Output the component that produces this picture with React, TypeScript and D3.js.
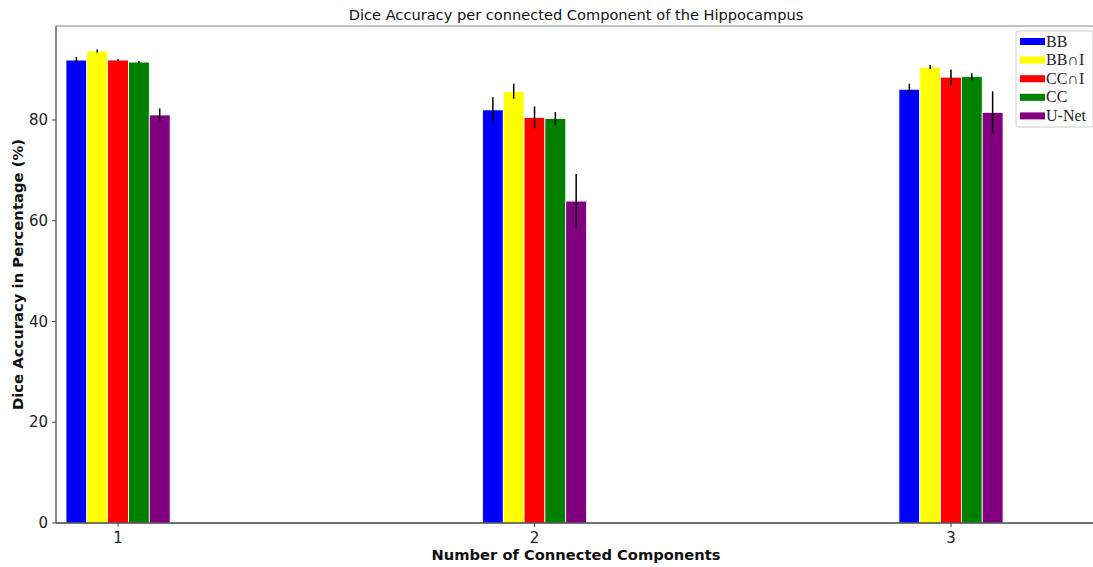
import React from 'react';
import * as d3 from 'd3';

// components on the x axis
const groups = [1, 2, 3];
const methods = ['BB', 'BB\u2229I', 'CC\u2229I', 'CC', 'U-Net'];
const colors = ['#0000ff', '#ffff00', '#ff0000', '#008000', '#800080'];

// mean dice per method, one value per group
const bbMean = [91.9, 82.0, 86.1];
const bbiMean = [93.7, 85.7, 90.5];
const cciMean = [91.9, 80.5, 88.5];
const ccMean = [91.5, 80.3, 88.6];
const unetMean = [81.0, 63.9, 81.5];

// standard deviations
const bbErr = [0.6, 2.5, 1.1];
const bbiErr = [0.3, 1.5, 0.4];
const cciErr = [0.2, 2.2, 1.5];
const ccErr = [0.2, 1.3, 0.7];
const unetErr = [1.3, 5.4, 4.2];

const yTicks = [0, 20, 40, 60, 80];

const means = [bbMean, bbiMean, cciMean, ccMean, unetMean];
const errs = [bbErr, bbiErr, cciErr, ccErr, unetErr];

const W = 1093;
const H = 567;
const left = 56;
const right = 1098;
const top = 26;
const bottom = 523;
const barW = 0.05;

export default function App() {
  const x = d3.scaleLinear().domain([0.851, 3.353]).range([left, right]);
  const y = d3.scaleLinear().domain([0, 98.66]).range([bottom, top]);

  const bars = [];
  methods.forEach((m, i) => {
    const offset = (i - 2) * barW;
    groups.forEach((g, j) => {
      const v = means[i][j];
      const e = errs[i][j];
      const x0 = x(g + offset - barW / 2);
      const x1 = x(g + offset + barW / 2);
      const cx = (x0 + x1) / 2;
      bars.push(
        <g key={m + g}>
          <rect x={x0} y={y(v)} width={x1 - x0} height={y(0) - y(v)} fill={colors[i]} stroke="#fff" strokeWidth={0.8} />
          <line x1={cx} x2={cx} y1={y(v + e)} y2={y(v - e)} stroke="#000" strokeWidth={1.5} />
        </g>
      );
    });
  });

  return (
    <svg width={W} height={H} style={{ position: 'absolute', left: 0, top: 0 }} fontFamily="DejaVu Sans">
      <rect width={W} height={H} fill="#fff" />
      <text x={576} y={20} textAnchor="middle" fontSize={14.6} fill="#111">
        Dice Accuracy per connected Component of the Hippocampus
      </text>

      {bars}

      {/* spines */}
      <line x1={left} x2={right} y1={top} y2={top} stroke="#888" strokeWidth={1.2} />
      <line x1={left} x2={left} y1={top} y2={bottom} stroke="#444" strokeWidth={1.2} />
      <line x1={left} x2={right} y1={bottom} y2={bottom} stroke="#444" strokeWidth={1.5} />

      {yTicks.map(t => (
        <g key={t} transform={`translate(${left},${y(t)})`}>
          <line x1={-4} x2={0} stroke="#444" />
          <text x={-8} dy="0.35em" textAnchor="end" fontSize={15} fill="#222">{t}</text>
        </g>
      ))}
      {groups.map(g => (
        <g key={g} transform={`translate(${x(g)},${bottom})`}>
          <line y1={0} y2={4} stroke="#444" />
          <text y={20} textAnchor="middle" fontSize={15} fill="#222">{g}</text>
        </g>
      ))}

      <text x={576} y={560} textAnchor="middle" fontSize={14.7} fontWeight="bold" fill="#111">
        Number of Connected Components
      </text>
      <text transform={`translate(23,${(top + bottom) / 2}) rotate(-90)`} textAnchor="middle" fontSize={14.8} fontWeight="bold" fill="#111">
        Dice Accuracy in Percentage (%)
      </text>

      {/* legend */}
      <g transform="translate(1016,31)" fontFamily="Liberation Serif">
        <rect width={77} height={96} rx={2} fill="#fff" stroke="#ccc" />
        {methods.map((m, i) => (
          <g key={m} transform={`translate(0,${10 + i * 18.6})`}>
            <rect x={4} y={-3} width={25} height={7} fill={colors[i]} />
            <text x={30} dy="0.35em" fontSize={16} fill="#222">{m}</text>
          </g>
        ))}
      </g>
    </svg>
  );
}
